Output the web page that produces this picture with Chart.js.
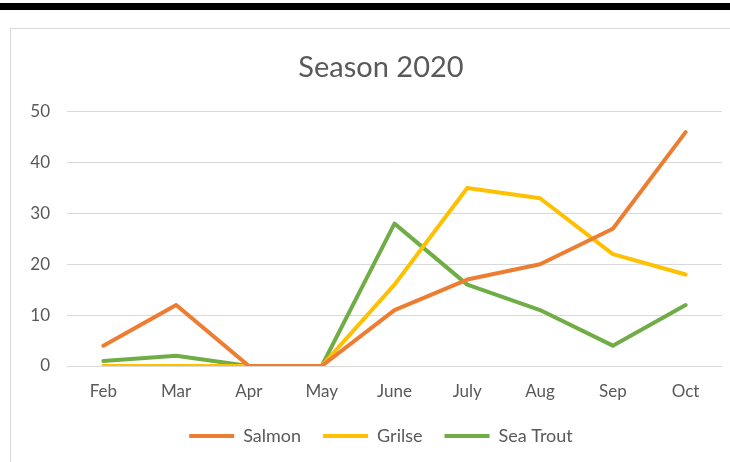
<!DOCTYPE html>
<html>
<head>
<meta charset="utf-8">
<script src="https://cdn.jsdelivr.net/npm/chart.js@4"></script>
<style>
  html, body { margin: 0; padding: 0; background: #fff; overflow: hidden; width: 730px; height: 462px; }
  #bar { position: absolute; left: 0; top: 3px; width: 730px; height: 7px; background: #000; }
  #frame { position: absolute; left: 10px; top: 28px; width: 740px; height: 460px; border: 1px solid #d9d9d9; }
  /* the original chart box runs past the right edge, so the canvas is wider than the window */
  #wrap { position: absolute; left: 0; top: 0; width: 762px; height: 462px; }
</style>
</head>
<body>
<div id="bar"></div>
<div id="frame"></div>
<div id="wrap"><canvas id="lineChart"></canvas></div>
<script>
// catch per month, season 2020
var months = ['Feb', 'Mar', 'Apr', 'May', 'June', 'July', 'Aug', 'Sep', 'Oct'];
var salmon = [4, 12, 0, 0, 11, 17, 20, 27, 46];
var grilse = [0, 0, 0, 0, 16, 35, 33, 22, 18];
var seaTrout = [1, 2, 0, 0, 28, 16, 11, 4, 12];
var yTicks = [0, 10, 20, 30, 40, 50];

var textColor = '#595959';
var fontName = 'Lato';

function serie(label, data, color) {
    return {
        label: label,
        data: data,
        borderColor: color,
        backgroundColor: color,
        borderWidth: 4,
        pointRadius: 0,
        pointHoverRadius: 0,
        tension: 0,
        borderCapStyle: 'round',
        borderJoinStyle: 'round',
        pointStyle: 'line'
    };
}

var ctx = document.getElementById('lineChart').getContext('2d');
var myChart = new Chart(ctx, {
    type: 'line',
    data: {
        labels: months,
        datasets: [
            serie('Salmon', salmon, '#ED7D31'),
            serie('Grilse', grilse, '#FFC000'),
            serie('Sea Trout', seaTrout, '#70AD47')
        ]
    },
    options: {
        responsive: true,
        maintainAspectRatio: false,
        animation: false,
        layout: { padding: { left: 0, right: 0, top: 50, bottom: 7 } },
        plugins: {
            title: {
                display: true,
                text: 'Season 2020',
                color: textColor,
                font: { family: fontName, size: 29, weight: 'normal' },
                padding: { top: 0, bottom: 27 }
            },
            legend: {
                position: 'bottom',
                labels: {
                    color: textColor,
                    font: { family: fontName, size: 18 },
                    usePointStyle: true,
                    pointStyleWidth: 45,
                    boxHeight: 17,
                    padding: 22
                }
            },
            tooltip: { enabled: false }
        },
        scales: {
            x: {
                offset: true,
                grid: { display: false },
                border: { display: false },
                ticks: { color: textColor, font: { family: fontName, size: 17 }, padding: 7 },
                afterFit: function (s) { s.height = 39; }
            },
            y: {
                min: 0,
                max: 50,
                afterBuildTicks: function (s) { s.ticks = yTicks.map(function (v) { return { value: v }; }); },
                grid: { color: '#d9d9d9', lineWidth: 1, drawTicks: false },
                border: { display: false },
                ticks: { color: textColor, font: { family: fontName, size: 17 }, padding: 17 },
                afterFit: function (s) { s.width = 67; }
            },
            // empty axis on the right, only keeps the plot away from the cut-off edge
            spacer: {
                type: 'linear',
                position: 'right',
                grid: { display: false },
                border: { display: false },
                ticks: { display: false },
                afterFit: function (s) { s.width = 40; }
            }
        }
    }
});
</script>
</body>
</html>
